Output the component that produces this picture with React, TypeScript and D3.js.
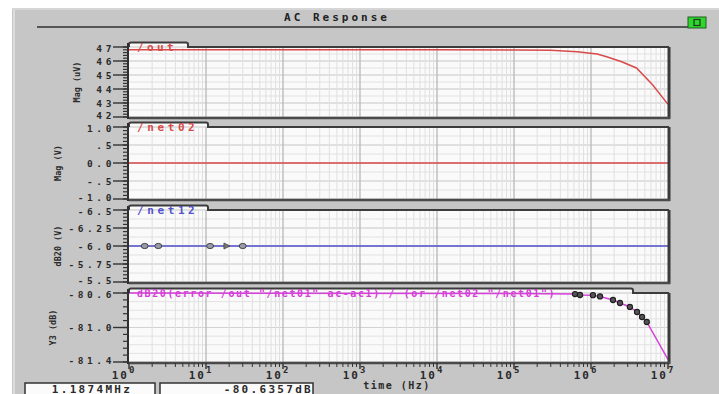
import React from 'react';
import * as d3 from 'd3';

const W = 719;
const H = 394;
const MONO = "'DejaVu Sans Mono', 'Liberation Mono', monospace";

// frequency axis decades (10^0 .. 10^7 Hz)
const decadeExps = [0, 1, 2, 3, 4, 5, 6, 7];

// /out magnitude (uV)
const outFreq = [1, 10, 100, 1e3, 1e4, 1e5, 3e5, 6.6e5, 1.2e6, 1.6e6, 2.5e6, 3.9e6, 6.3e6, 1e7];
const outMag = [46.8, 46.8, 46.8, 46.8, 46.8, 46.79, 46.76, 46.66, 46.5, 46.3, 45.95, 45.5, 44.3, 42.9];

// /net02 magnitude (V)
const net02Freq = [1, 1e7];
const net02Mag = [0, 0];

// /net12 dB20 (V)
const net12Freq = [1, 1e7];
const net12Db = [-6, -6];
const net12MarkFreq = [1.6, 2.4, 11.3, 30];
const net12ArrowFreq = [18.7];

// Y3 (dB) ratio curve
const y3Freq = [1, 1e5, 6.2e5, 7.2e5, 1.06e6, 1.1874e6, 1.31e6, 1.93e6, 2.38e6, 3.2e6, 3.96e6, 4.6e6, 5.3e6, 1e7];
const y3Db = [-80.6, -80.605, -80.612, -80.623, -80.625, -80.6357, -80.64, -80.681, -80.716, -80.762, -80.82, -80.878, -80.936, -81.37];
const y3MarkFreq = [6.2e5, 7.2e5, 1.06e6, 1.31e6, 1.93e6, 2.38e6, 3.2e6, 3.96e6, 4.6e6, 5.3e6];
const y3MarkDb = [-80.612, -80.623, -80.625, -80.64, -80.681, -80.716, -80.762, -80.82, -80.878, -80.936];

// cursor readout
const cursorFreq = 1.1874e6;
const cursorDb = -80.6357;

// y tick values and labels
const outTicks = [47, 46, 45, 44, 43, 42];
const outTickLabels = ['47', '46', '45', '44', '43', '42'];
const net02Ticks = [1.0, 0.5, 0, -0.5, -1.0];
const net02TickLabels = ['1.0', '.5', '0.0', '-.5', '-1.0'];
const net12Ticks = [-6.5, -6.25, -6.0, -5.75, -5.5];
const net12TickLabels = ['-6.5', '-6.25', '-6.0', '-5.75', '-5.5'];
const y3Ticks = [-80.6, -81.0, -81.4];
const y3TickLabels = ['-80.6', '-81.0', '-81.4'];

const RED = '#d84a4a';
const BLUE = '#5252cc';
const MAGENTA = '#d440d8';

const X0 = 129;
const X1 = 668;
const x = d3.scaleLog().domain([1, 1e7]).range([X0, X1]);

type Series = { freq: number[]; val: number[]; color: string };
type Panel = {
  top: number;
  bottom: number;
  domain: [number, number];
  ticks: number[];
  tickLabels: string[];
  minorStep: number;
  gridStep: number;
  title: string;
  titleX: number;
  tabEnd: number;
  tabLabel: string;
  tabColor: string;
  tabFont: number;
  tabSpacing: number;
  series: Series;
};

const panels: Panel[] = [
  {
    top: 47, bottom: 117, domain: [47, 42], ticks: outTicks, tickLabels: outTickLabels,
    minorStep: 0.2, gridStep: 0.5, title: 'Mag (uV)', titleX: 77, tabEnd: 188,
    tabLabel: '/out', tabColor: RED, tabFont: 11, tabSpacing: 3.4,
    series: { freq: outFreq, val: outMag, color: RED },
  },
  {
    top: 127, bottom: 199, domain: [1, -1], ticks: net02Ticks, tickLabels: net02TickLabels,
    minorStep: 0.1, gridStep: 0.25, title: 'Mag (V)', titleX: 58, tabEnd: 208,
    tabLabel: '/net02', tabColor: RED, tabFont: 11, tabSpacing: 3.6,
    series: { freq: net02Freq, val: net02Mag, color: RED },
  },
  {
    top: 210, bottom: 282, domain: [-6.5, -5.5], ticks: net12Ticks, tickLabels: net12TickLabels,
    minorStep: 0.05, gridStep: 0.125, title: 'dB20 (V)', titleX: 58, tabEnd: 208,
    tabLabel: '/net12', tabColor: BLUE, tabFont: 11, tabSpacing: 3.6,
    series: { freq: net12Freq, val: net12Db, color: BLUE },
  },
  {
    top: 293, bottom: 362, domain: [-80.6, -81.4], ticks: y3Ticks, tickLabels: y3TickLabels,
    minorStep: 0.08, gridStep: 0.1, title: 'Y3 (dB)', titleX: 53, tabEnd: 633,
    tabLabel: 'dB20(error /out "/net01" ac-ac1) / (or /net02 "/net01")', tabColor: MAGENTA,
    tabFont: 10, tabSpacing: 1.6,
    series: { freq: y3Freq, val: y3Db, color: MAGENTA },
  },
];

function steps(a: number, b: number, step: number): number[] {
  const lo = Math.min(a, b);
  const hi = Math.max(a, b);
  const n = Math.round((hi - lo) / step);
  return d3.range(n + 1).map((i) => lo + i * step);
}

const minorFreqs: number[] = [];
for (let d = 0; d < 7; d++) for (let m = 2; m <= 9; m++) minorFreqs.push(m * Math.pow(10, d));

function PanelView({ p, idx }: { p: Panel; idx: number }) {
  const y = d3.scaleLinear().domain(p.domain).range([p.top, p.bottom]);
  const line = d3
    .line<number>()
    .x((_, i) => x(p.series.freq[i]))
    .y((v) => y(v));
  const t = p.top;
  const framePath = `M${X0},${t} L${X0},${t - 3} Q${X0},${t - 4.5} ${X0 + 2},${t - 4.5} L${p.tabEnd - 2},${t - 4.5} Q${p.tabEnd},${t - 4.5} ${p.tabEnd},${t - 2.5} L${p.tabEnd},${t} L${X1 + 1},${t}`;
  const clipId = `clip-${idx}`;
  const last = p.ticks.length - 1;
  return (
    <g>
      <defs>
        <clipPath id={clipId}>
          <rect x={X0} y={p.top - 5} width={X1 - X0} height={p.bottom - p.top + 5} />
        </clipPath>
      </defs>
      {/* plot face and tab */}
      <rect x={X0} y={p.top} width={X1 - X0} height={p.bottom - p.top} fill="#fafafa" />
      <rect x={X0} y={p.top - 4.5} width={p.tabEnd - X0} height={5} fill="#fafafa" />
      {/* horizontal grid */}
      {steps(p.domain[0], p.domain[1], p.gridStep).map((v, i) => (
        <line key={`h${i}`} x1={X0} x2={X1} y1={y(v)} y2={y(v)} stroke="#e2e2e2" strokeWidth={1} />
      ))}
      {p.ticks.map((v, i) => (
        <line key={`hm${i}`} x1={X0} x2={X1} y1={y(v)} y2={y(v)} stroke="#d2d2d2" strokeWidth={1} />
      ))}
      {/* vertical grid */}
      {minorFreqs.map((f, i) => (
        <line key={`v${i}`} x1={x(f)} x2={x(f)} y1={p.top} y2={p.bottom} stroke="#e0e0e0" strokeWidth={1} />
      ))}
      {decadeExps.slice(1, -1).map((e) => (
        <line key={`vd${e}`} x1={x(Math.pow(10, e))} x2={x(Math.pow(10, e))} y1={p.top} y2={p.bottom} stroke="#b8b8b8" strokeWidth={1.3} />
      ))}
      {/* data */}
      <g clipPath={`url(#${clipId})`}>
        <path d={line(p.series.val) || ''} fill="none" stroke={p.series.color} strokeWidth={1.5} />
      </g>
      {/* frame */}
      <path d={framePath} fill="none" stroke="#3c3c3c" strokeWidth={2} />
      <line x1={X1 + 1} x2={X1 + 1} y1={p.top} y2={p.bottom + 2} stroke="#3a3a3a" strokeWidth={3} />
      <line x1={X0} x2={X1 + 2} y1={p.bottom + 1} y2={p.bottom + 1} stroke="#4a4a4a" strokeWidth={2.5} />
      {/* tab label */}
      <text
        x={137}
        y={p.top + 3.5}
        fontFamily={MONO}
        fontWeight="bold"
        fontSize={p.tabFont}
        letterSpacing={p.tabSpacing}
        fill={p.tabColor}
        style={{ whiteSpace: 'pre' }}
      >
        {p.tabLabel}
      </text>
      {/* left axis */}
      <line x1={X0 - 1} x2={X0 - 1} y1={p.top - 4} y2={p.bottom + 2} stroke="#2e2e2e" strokeWidth={2} />
      {steps(p.domain[0], p.domain[1], p.minorStep).map((v, i) => (
        <line key={`mt${i}`} x1={123} x2={X0} y1={y(v)} y2={y(v)} stroke="#333" strokeWidth={1.2} />
      ))}
      {p.ticks.map((v, i) => (
        <g key={`t${i}`}>
          <line x1={113} x2={X0} y1={y(v)} y2={y(v)} stroke="#333" strokeWidth={1.4} />
          <text
            x={115}
            y={y(v) + 3.5 + (i === 0 ? 1 : i === last ? -1.5 : 0)}
            textAnchor="end"
            fontFamily={MONO}
            fontWeight="bold"
            fontSize={9.5}
            letterSpacing={3.6}
            fill="#2a2a2a"
          >
            {p.tickLabels[i]}
          </text>
        </g>
      ))}
      {/* axis title */}
      <text
        transform={`translate(${p.titleX},${(p.top + p.bottom) / 2}) rotate(-90)`}
        textAnchor="middle"
        dominantBaseline="central"
        fontFamily={MONO}
        fontWeight="bold"
        fontSize={8.5}
        fill="#2a2a2a"
      >
        {p.title}
      </text>
    </g>
  );
}

export default function App() {
  const p3 = panels[2];
  const p4 = panels[3];
  const y3s = d3.scaleLinear().domain(p3.domain).range([p3.top, p3.bottom]);
  const y4s = d3.scaleLinear().domain(p4.domain).range([p4.top, p4.bottom]);
  const axisY = p4.bottom + 1;

  return (
    <svg width={W} height={H} style={{ position: 'absolute', left: 0, top: 0 }}>
      <rect x={0} y={0} width={W} height={H} fill="#ffffff" />
      <rect x={12} y={8} width={W - 12} height={H - 8} fill="#c6c6c6" />
      <line x1={14} x2={14} y1={9} y2={H} stroke="#dcdcdc" strokeWidth={2} />
      <line x1={12} x2={W} y1={9} y2={9} stroke="#d6d6d6" strokeWidth={2} />

      {/* window title */}
      <text x={337} y={21} textAnchor="middle" fontFamily={MONO} fontWeight="bold" fontSize={11} letterSpacing={3} fill="#222">
        AC Response
      </text>
      <line x1={37} x2={705} y1={27} y2={27} stroke="#555" strokeWidth={2} />
      <rect x={688} y={17} width={18} height={11} fill="#2ed62e" stroke="#1f5f1f" strokeWidth={1} />
      <rect x={694} y={19.5} width={6} height={6} fill="none" stroke="#1b3b1b" strokeWidth={1.2} />

      {panels.map((p, i) => (
        <PanelView key={i} p={p} idx={i} />
      ))}

      {/* markers on /net12 */}
      {net12MarkFreq.map((f, i) => (
        <ellipse key={`m3${i}`} cx={x(f)} cy={y3s(net12Db[0])} rx={3.5} ry={2.6} fill="#9a9aa8" stroke="#444" strokeWidth={1} />
      ))}
      {net12ArrowFreq.map((f, i) => (
        <path
          key={`a3${i}`}
          d={`M${x(f) - 3},${y3s(net12Db[0]) - 3} L${x(f) + 3},${y3s(net12Db[0])} L${x(f) - 3},${y3s(net12Db[0]) + 3} Z`}
          fill="#777"
          stroke="#444"
          strokeWidth={0.8}
        />
      ))}

      {/* markers on Y3 */}
      {y3MarkFreq.map((f, i) => (
        <circle key={`m4${i}`} cx={x(f)} cy={y4s(y3MarkDb[i])} r={2.6} fill="#555" stroke="#1e1e1e" strokeWidth={1.1} />
      ))}

      {/* frequency axis */}
      {minorFreqs.map((f, i) => (
        <line key={`xm${i}`} x1={x(f)} x2={x(f)} y1={axisY} y2={axisY + 4} stroke="#333" strokeWidth={1} />
      ))}
      {decadeExps.map((e) => (
        <g key={`xd${e}`}>
          <line x1={x(Math.pow(10, e))} x2={x(Math.pow(10, e))} y1={axisY} y2={axisY + 6} stroke="#333" strokeWidth={1.4} />
          <text
            x={x(Math.pow(10, e)) - 5}
            y={379}
            textAnchor="middle"
            fontFamily={MONO}
            fontWeight="bold"
            fontSize={11}
            letterSpacing={2}
            fill="#2a2a2a"
          >
            10
            <tspan dy={-6} fontSize={9}>
              {e}
            </tspan>
          </text>
        </g>
      ))}
      <text x={397} y={389} textAnchor="middle" fontFamily={MONO} fontWeight="bold" fontSize={10} letterSpacing={1.5} fill="#2a2a2a">
        time (Hz)
      </text>

      {/* cursor readout */}
      <rect x={25} y={383} width={130} height={14} fill="#fbfbfb" stroke="#333" strokeWidth={1.5} />
      <rect x={160} y={383} width={153} height={14} fill="#fbfbfb" stroke="#333" strokeWidth={1.5} />
      <text x={92} y={392.5} textAnchor="middle" fontFamily={MONO} fontWeight="bold" fontSize={11} letterSpacing={2.3} fill="#2a2a2a">
        {`${(cursorFreq / 1e6).toFixed(4)}MHz`}
      </text>
      <text x={313} y={392.5} textAnchor="end" fontFamily={MONO} fontWeight="bold" fontSize={11} letterSpacing={2.3} fill="#2a2a2a">
        {`${cursorDb.toFixed(4)}dB`}
      </text>
    </svg>
  );
}
